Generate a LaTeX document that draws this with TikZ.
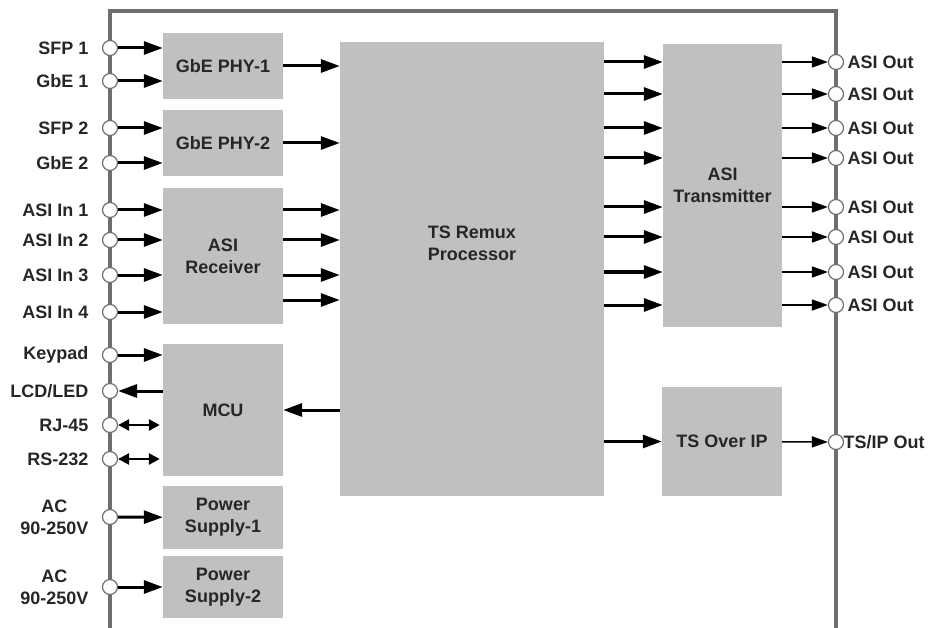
\documentclass[tikz,border=0pt]{standalone}
\usepackage{fontspec}
\setmainfont{Liberation Sans}
\usetikzlibrary{arrows.meta}
\definecolor{boxgray}{RGB}{192,192,192}
\definecolor{framegray}{RGB}{110,110,110}
\definecolor{textgray}{RGB}{38,38,38}

\begin{document}
\begin{tikzpicture}[x=1pt, y=-1pt,
    every node/.style={font=\fontsize{18}{22}\selectfont\bfseries, text=textgray},
    block/.style={fill=boxgray, minimum width=120pt, align=center, inner sep=0pt},
    port/.style={circle, draw=framegray, fill=white, line width=1.2pt, minimum size=15pt, inner sep=0pt},
    arr/.style={-{Triangle[length=19pt, width=13pt]}, line width=3pt},
    thinarr/.style={-{Triangle[length=16pt, width=11pt]}, line width=1.5pt},
    biarr/.style={{Triangle[length=11pt, width=11pt]}-{Triangle[length=11pt, width=11pt]}, line width=2.5pt}]
    \useasboundingbox (0,0) rectangle (931,628);

    % enclosure
    \draw[framegray, line width=3.5pt] (110,628) -- (110,11) -- (836,11) -- (836,628);

    % blocks
    \node[block, minimum height=66pt] (phy1) at (223,66) {GbE PHY-1};
    \node[block, minimum height=66pt] (phy2) at (223,143) {GbE PHY-2};
    \node[block, minimum height=136pt] (rx) at (223,256) {ASI\\Receiver};
    \node[block, minimum height=132pt] (mcu) at (223,410) {MCU};
    \node[block, minimum height=63pt] (ps1) at (223,517.5) {Power\\Supply-1};
    \node[block, minimum height=62pt] (ps2) at (223,587) {Power\\Supply-2};
    \node[block, minimum width=264pt, minimum height=454pt] (remux) at (472,269) {};
    \node[align=center] (remuxtext) at (472,243) {TS Remux\\Processor};
    \node[block, minimum width=119pt, minimum height=283pt] (asitx) at (722.5,185.5) {ASI\\Transmitter};
    \node[block, minimum height=109pt] (tsip) at (722,441.5) {TS Over IP};

    % input ports
    \node[port, label={[label distance=10pt]left:SFP 1}] (sfpA) at (110,48) {};
    \node[port, label={[label distance=10pt]left:GbE 1}] (gbeA) at (110,81) {};
    \node[port, label={[label distance=10pt]left:SFP 2}] (sfpB) at (110,128) {};
    \node[port, label={[label distance=10pt]left:GbE 2}] (gbeB) at (110,163) {};
    \node[port, label={[label distance=10pt]left:ASI In 1}] (asiA) at (110,210) {};
    \node[port, label={[label distance=10pt]left:ASI In 2}] (asiB) at (110,240) {};
    \node[port, label={[label distance=10pt]left:ASI In 3}] (asiC) at (110,275) {};
    \node[port, label={[label distance=10pt]left:ASI In 4}] (asiD) at (110,312) {};
    \node[port, label={[label distance=10pt]left:Keypad}] (keypad) at (110,355) {};
    \node[port, label={[label distance=10pt]left:LCD/LED}] (lcd) at (110,391) {};
    \node[port, label={[label distance=10pt]left:RJ-45}] (rj) at (110,425) {};
    \node[port, label={[label distance=10pt]left:RS-232}] (rs) at (110,459) {};
    \node[port, label={[label distance=10pt, align=center]left:AC\\90-250V}] (acA) at (110,517) {};
    \node[port, label={[label distance=10pt, align=center]left:AC\\90-250V}] (acB) at (110,587) {};

    % output ports
    \node[port, label={[label distance=0pt]right:ASI Out}] (outA) at (836,62) {};
    \node[port, label={[label distance=0pt]right:ASI Out}] (outB) at (836,94) {};
    \node[port, label={[label distance=0pt]right:ASI Out}] (outC) at (836,128) {};
    \node[port, label={[label distance=0pt]right:ASI Out}] (outD) at (836,158) {};
    \node[port, label={[label distance=0pt]right:ASI Out}] (outE) at (836,207) {};
    \node[port, label={[label distance=0pt]right:ASI Out}] (outF) at (836,237) {};
    \node[port, label={[label distance=0pt]right:ASI Out}] (outG) at (836,272) {};
    \node[port, label={[label distance=0pt]right:ASI Out}] (outH) at (836,305) {};
    \node[port, label={[label distance=-4pt]right:TS/IP Out}] (tsout) at (836,442) {};

    % inputs into the front end
    \draw[arr] (sfpA) -- (sfpA -| phy1.west);
    \draw[arr] (gbeA) -- (gbeA -| phy1.west);
    \draw[arr] (sfpB) -- (sfpB -| phy2.west);
    \draw[arr] (gbeB) -- (gbeB -| phy2.west);
    \draw[arr] (asiA) -- (asiA -| rx.west);
    \draw[arr] (asiB) -- (asiB -| rx.west);
    \draw[arr] (asiC) -- (asiC -| rx.west);
    \draw[arr] (asiD) -- (asiD -| rx.west);
    \draw[arr] (keypad) -- (keypad -| mcu.west);
    \draw[arr] (lcd -| mcu.west) -- (lcd);
    \draw[biarr] (rj) -- ([xshift=-3pt]rj -| mcu.west);
    \draw[biarr] (rs) -- ([xshift=-3pt]rs -| mcu.west);
    \draw[arr] (acA) -- (ps1);
    \draw[arr] (acB) -- (ps2);

    % front end to processor
    \draw[arr] (phy1) -- (phy1 -| remux.west);
    \draw[arr] (phy2) -- (phy2 -| remux.west);
    \draw[arr] (rx.east |- asiA) -- (remux.west |- asiA);
    \draw[arr] (rx.east |- asiB) -- (remux.west |- asiB);
    \draw[arr] (rx.east |- asiC) -- (remux.west |- asiC);
    \draw[arr] ([yshift=12pt]rx.east |- asiD) -- ([yshift=12pt]remux.west |- asiD);
    \draw[arr] (remux.west |- mcu) -- (mcu);

    % processor to transmitter
    \draw[arr] (remux.east |- outA) -- (asitx.west |- outA);
    \draw[arr] (remux.east |- outB) -- (asitx.west |- outB);
    \draw[arr] (remux.east |- outC) -- (asitx.west |- outC);
    \draw[arr] (remux.east |- outD) -- (asitx.west |- outD);
    \draw[arr] (remux.east |- outE) -- (asitx.west |- outE);
    \draw[arr] (remux.east |- outF) -- (asitx.west |- outF);
    \draw[arr] (remux.east |- outG) -- (asitx.west |- outG);
    \draw[arr] (remux.east |- outH) -- (asitx.west |- outH);
    \draw[arr] (remux.east |- tsip) -- (tsip);

    % outputs
    \draw[thinarr] (asitx.east |- outA) -- (outA);
    \draw[thinarr] (asitx.east |- outB) -- (outB);
    \draw[thinarr] (asitx.east |- outC) -- (outC);
    \draw[thinarr] (asitx.east |- outD) -- (outD);
    \draw[thinarr] (asitx.east |- outE) -- (outE);
    \draw[thinarr] (asitx.east |- outF) -- (outF);
    \draw[thinarr] (asitx.east |- outG) -- (outG);
    \draw[thinarr] (asitx.east |- outH) -- (outH);
    \draw[thinarr] (tsip) -- (tsout);
\end{tikzpicture}
\end{document}
